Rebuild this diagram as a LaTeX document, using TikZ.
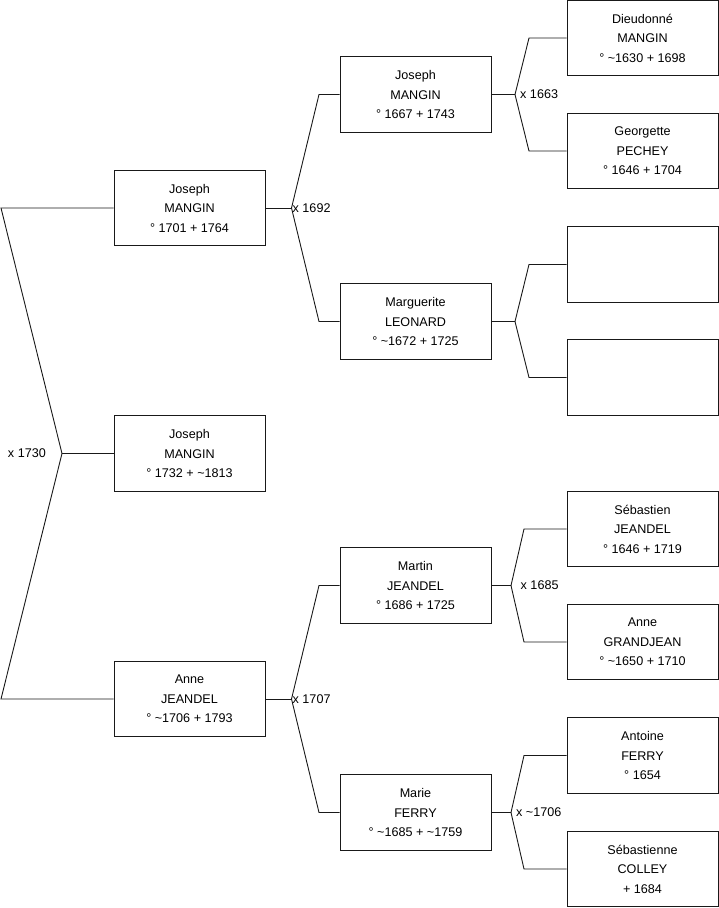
\documentclass[tikz,border=0pt]{standalone}
\usepackage{fontspec}
\setmainfont{Liberation Sans}
\newcommand{\tl}{\textasciitilde}
\begin{document}
\begin{tikzpicture}[x=1pt,y=-1pt,
  person/.style={draw=black!90, line width=0.9pt, minimum width=151pt, minimum height=75.5pt,
    align=center, inner sep=0pt, font=\fontsize{12.6}{19.5}\selectfont},
  link/.style={draw=black!90, line width=0.9pt},
  mlabel/.style={font=\fontsize{12.6}{14}\selectfont, inner sep=1pt}]
\useasboundingbox (0,0) rectangle (719,908);

% people
\node[person] (root) at (189.5,453.5) {Joseph\\MANGIN\\° 1732 + \tl1813};
\node[person] (p1) at (189.5,208) {Joseph\\MANGIN\\° 1701 + 1764};
\node[person] (p2) at (189.5,699) {Anne\\JEANDEL\\° \tl1706 + 1793};
\node[person] (g1) at (415.5,94.5) {Joseph\\MANGIN\\° 1667 + 1743};
\node[person] (g2) at (415.5,321.5) {Marguerite\\LEONARD\\° \tl1672 + 1725};
\node[person] (g3) at (415.5,585.5) {Martin\\JEANDEL\\° 1686 + 1725};
\node[person] (g4) at (415.5,812.5) {Marie\\FERRY\\° \tl1685 + \tl1759};
\node[person] (h1) at (642.5,38) {Dieudonné\\MANGIN\\° \tl1630 + 1698};
\node[person] (h2) at (642.5,151) {Georgette\\PECHEY\\° 1646 + 1704};
\node[person] (h3) at (642.5,264.5) {};
\node[person] (h4) at (642.5,377.5) {};
\node[person] (h5) at (642.5,529) {Sébastien\\JEANDEL\\° 1646 + 1719};
\node[person] (h6) at (642.5,642) {Anne\\GRANDJEAN\\° \tl1650 + 1710};
\node[person] (h7) at (642.5,755.5) {Antoine\\FERRY\\° 1654};
\node[person] (h8) at (642.5,869) {Sébastienne\\COLLEY\\+ 1684};

% fork coordinates
\coordinate (fr) at (62,453.5);
\coordinate (fra) at (1,208);
\coordinate (frb) at (1,699);
\coordinate (f1) at (291.5,208);
\coordinate (f1a) at (319,94.5);
\coordinate (f1b) at (319,321.5);
\coordinate (f2) at (291.5,699);
\coordinate (f2a) at (319,585.5);
\coordinate (f2b) at (319,812.5);
\coordinate (k1) at (515,94.5);
\coordinate (k1a) at (529,38);
\coordinate (k1b) at (529,151);
\coordinate (k2) at (515,321.5);
\coordinate (k2a) at (529,264.5);
\coordinate (k2b) at (529,377.5);
\coordinate (k3) at (511,585.5);
\coordinate (k3a) at (524,529);
\coordinate (k3b) at (524,642);
\coordinate (k4) at (511,812.5);
\coordinate (k4a) at (524,755.5);
\coordinate (k4b) at (524,869);

% connectors
\draw[link] (root.west) -- (fr);
\draw[link] (p1.west) -- (fra) -- (fr) -- (frb) -- (p2.west);
\draw[link] (p1.east) -- (f1);
\draw[link] (g1.west) -- (f1a) -- (f1) -- (f1b) -- (g2.west);
\draw[link] (p2.east) -- (f2);
\draw[link] (g3.west) -- (f2a) -- (f2) -- (f2b) -- (g4.west);
\draw[link] (g1.east) -- (k1);
\draw[link] (h1.west) -- (k1a) -- (k1) -- (k1b) -- (h2.west);
\draw[link] (g2.east) -- (k2);
\draw[link] (h3.west) -- (k2a) -- (k2) -- (k2b) -- (h4.west);
\draw[link] (g3.east) -- (k3);
\draw[link] (h5.west) -- (k3a) -- (k3) -- (k3b) -- (h6.west);
\draw[link] (g4.east) -- (k4);
\draw[link] (h7.west) -- (k4a) -- (k4) -- (k4b) -- (h8.west);

% marriage labels
\node[mlabel, anchor=east] (mr) at (47,453.5) {x 1730};
\node[mlabel, anchor=west] (m1) at (291.5,208) {x 1692};
\node[mlabel, anchor=west] (m2) at (291.5,699) {x 1707};
\node[mlabel, anchor=west] (m3) at (519,94.5) {x 1663};
\node[mlabel, anchor=west] (m5) at (519.5,585.5) {x 1685};
\node[mlabel, anchor=west] (m6) at (515,812.5) {x \tl1706};
\end{tikzpicture}
\end{document}
